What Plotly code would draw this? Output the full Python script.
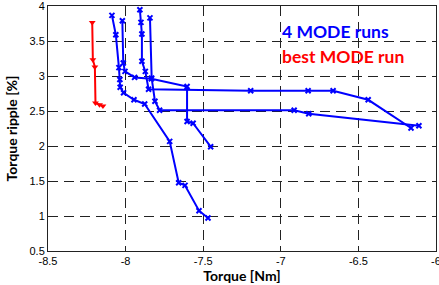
import plotly.graph_objects as go

# Blue runs (4 MODE runs)
runA_x = [-8.088, -8.063, -8.043, -8.037, -8.035, -8.013, -7.946, -7.877, -7.716, -7.658, -7.617, -7.527, -7.469]
runA_y = [3.866, 3.59, 3.12, 2.95, 2.84, 2.76, 2.66, 2.60, 2.066, 1.476, 1.437, 1.076, 0.971]

runB_x = [-8.021, -8.015, -8.004, -7.942, -7.834, -7.604, -7.604, -7.565, -7.452]
runB_y = [3.79, 3.186, 3.066, 2.98, 2.96, 2.85, 2.35, 2.325, 1.99]

runC_x = [-7.908, -7.901, -7.895, -7.895, -7.873, -7.852, -7.194, -6.824, -6.663, -6.437, -6.161]
runC_y = [3.947, 3.766, 3.60, 3.21, 3.066, 2.81, 2.79, 2.79, 2.79, 2.66, 2.257]

runD_x = [-7.843, -7.832, -7.811, -7.781, -6.914, -6.82, -6.11]
runD_y = [3.83, 2.97, 2.64, 2.51, 2.51, 2.46, 2.29]

# Red run (best MODE run)
best_x = [-8.215, -8.211, -8.198, -8.194, -8.168, -8.146]
best_y = [3.766, 3.233, 3.13, 2.614, 2.59, 2.57]

x_ticks = [-8.5, -8, -7.5, -7, -6.5, -6]
x_ticklabels = ["-8.5", "-8", "-7.5", "-7", "-6.5", "-6"]
y_ticks = [0.5, 1, 1.5, 2, 2.5, 3, 3.5, 4]
y_ticklabels = ["0.5", "1", "1.5", "2", "2.5", "3", "3.5", "4"]

legend_lines = ["4 MODE runs", "best MODE run"]

blue = "#0000FF"
red = "#FF0000"

fig = go.Figure()
for xs, ys in [(runA_x, runA_y), (runB_x, runB_y), (runC_x, runC_y), (runD_x, runD_y)]:
    fig.add_trace(go.Scatter(
        x=xs, y=ys, mode="lines+markers",
        line=dict(color=blue, width=2),
        marker=dict(symbol="x-thin", size=5, line=dict(color=blue, width=2)),
        showlegend=False, hoverinfo="skip", cliponaxis=False))

fig.add_trace(go.Scatter(
    x=best_x, y=best_y, mode="lines+markers",
    line=dict(color=red, width=2),
    marker=dict(symbol="triangle-down", size=6, color=red),
    showlegend=False, hoverinfo="skip"))

fig.add_annotation(x=-7.006, y=3.64, xref="x", yref="y", text=legend_lines[0],
                   showarrow=False, xanchor="left", yanchor="middle",
                   font=dict(family="Lato", size=17.5, color=blue, weight="bold"))
fig.add_annotation(x=-7.006, y=3.28, xref="x", yref="y", text=legend_lines[1],
                   showarrow=False, xanchor="left", yanchor="middle",
                   font=dict(family="Lato", size=17.5, color=red, weight="bold"))

grid = dict(showgrid=True, gridcolor="#222222", gridwidth=1, griddash="10px,6px",
            showline=True, mirror=True, linecolor="#222222", linewidth=1,
            ticks="inside", ticklen=4, tickcolor="#222222", zeroline=False,
            automargin=False, ticklabeloverflow="allow",
            tickfont=dict(family="Liberation Sans", size=11, color="black"))

fig.update_xaxes(range=[-8.5, -6], tickvals=x_ticks, ticktext=x_ticklabels,
                 title=dict(text="Torque [Nm]", standoff=2,
                            font=dict(family="Lato", size=14, color="black", weight="bold")),
                 **grid)
fig.update_yaxes(range=[0.5, 4], tickvals=y_ticks, ticktext=y_ticklabels,
                 title=dict(text="Torque ripple [%]", standoff=8,
                            font=dict(family="Lato", size=14, color="black", weight="bold")),
                 **grid)

fig.update_layout(width=439, height=285, margin=dict(l=48, r=3, t=6, b=34),
                  plot_bgcolor="white", paper_bgcolor="white")

fig.write_html("out.html", config={"displayModeBar": False, "staticPlot": True},
               post_script="document.body.style.margin='0';document.body.style.overflow='hidden';")
